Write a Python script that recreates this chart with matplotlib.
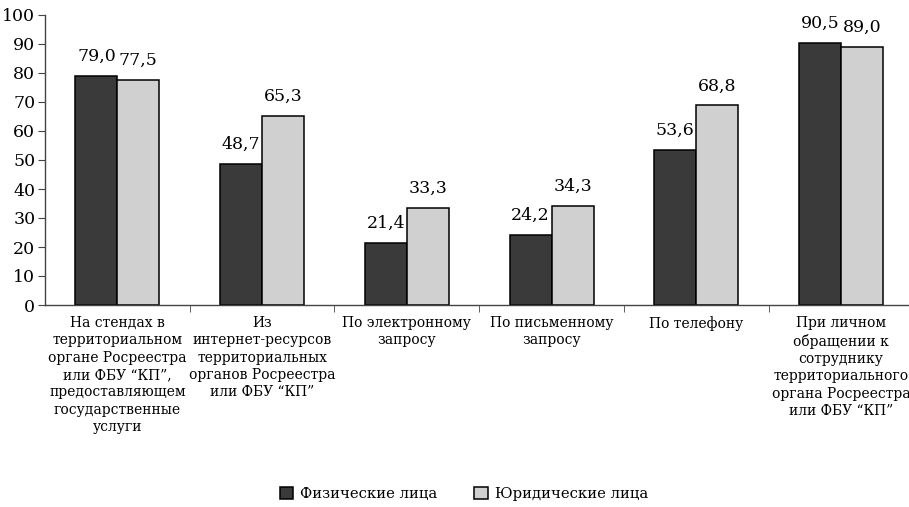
import matplotlib
matplotlib.use("Agg")
import matplotlib.pyplot as plt
import numpy as np
from matplotlib.patches import Patch

plt.rcParams['font.family'] = ['DejaVu Serif']

categories = [
    "На стендах в\nтерриториальном\nоргане Росреестра\nили ФБУ “КП”,\nпредоставляющем\nгосударственные\nуслуги",
    "Из\nинтернет-ресурсов\nтерриториальных\nорганов Росреестра\nили ФБУ “КП”",
    "По электронному\nзапросу",
    "По письменному\nзапросу",
    "По телефону",
    "При личном\nобращении к\nсотруднику\nтерриториального\nоргана Росреестра\nили ФБУ “КП”",
]
series_names = ["Физические лица", "Юридические лица"]
individuals = [79.0, 48.7, 21.4, 24.2, 53.6, 90.5]
legal_entities = [77.5, 65.3, 33.3, 34.3, 68.8, 89.0]
y_ticks = [0, 10, 20, 30, 40, 50, 60, 70, 80, 90, 100]

W, H = 909, 507
fig = plt.figure(figsize=(W / 100, H / 100), dpi=100)
left_px, right_px, bottom_px, top_px = 45, 909, 305, 15
ax = fig.add_axes([left_px / W, (H - bottom_px) / H,
                   (right_px - left_px) / W, (bottom_px - top_px) / H])

x = np.arange(len(categories))
bw = 0.29
dark, light = "#3a3a3a", "#d0d0d0"
b1 = ax.bar(x - bw / 2, individuals, bw, color=dark, edgecolor="black", linewidth=1.1)
b2 = ax.bar(x + bw / 2, legal_entities, bw, color=light, edgecolor="black", linewidth=1.1)

def fmt(v):
    return f"{v:.1f}".replace(".", ",")

for bars, vals in ((b1, individuals), (b2, legal_entities)):
    for rect, v in zip(bars, vals):
        ax.annotate(fmt(v), (rect.get_x() + rect.get_width() / 2, v),
                    xytext=(0, 8), textcoords="offset points",
                    ha="center", va="bottom", fontsize=12.5)

ax.set_ylim(0, 100)
ax.set_xlim(-0.5, 5.47)
ax.set_yticks(y_ticks)
ax.set_yticklabels([str(t) for t in y_ticks], fontsize=12.5)
ax.set_xticks(x)
ax.set_xticklabels(categories, fontsize=10, va="top", linespacing=1.3)
ax.set_xticks(np.arange(0.5, 5.5, 1.0), minor=True)
ax.tick_params(axis="x", which="major", length=0, pad=8)
ax.tick_params(axis="x", which="minor", length=5, direction="out", color="#444444")
ax.tick_params(axis="y", length=5, direction="out", color="#444444", pad=2)

for s in ("top", "right"):
    ax.spines[s].set_visible(False)
for s in ("left", "bottom"):
    ax.spines[s].set_color("#444444")
    ax.spines[s].set_linewidth(1.0)

handles = [Patch(facecolor=dark, edgecolor="black", linewidth=1.1),
           Patch(facecolor=light, edgecolor="black", linewidth=1.1)]
fig.legend(handles, series_names, loc="center", bbox_to_anchor=(464 / W, 1 - 494 / H),
           ncol=2, frameon=False, fontsize=10.6, handlelength=0.9, handleheight=0.9,
           handletextpad=0.5, columnspacing=2.5)

fig.savefig("out.png", dpi=100)
